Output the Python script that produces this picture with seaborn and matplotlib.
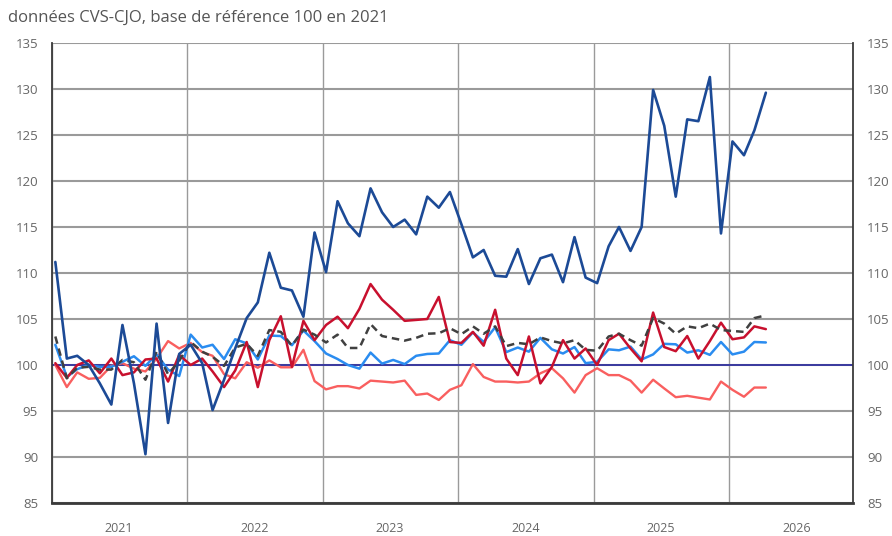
import numpy as np
import pandas as pd
import matplotlib
matplotlib.use("Agg")
import matplotlib.pyplot as plt
import matplotlib.dates as mdates
import seaborn as sns

# ---- data (monthly, Jan 2021 -> Apr 2026) ----
months = pd.date_range("2021-01-01", periods=64, freq="MS")

serie_bleu_fonce = [111.2, 100.7, 101.0, 100.0, 98.0, 95.7, 104.35, 98.0, 90.3, 104.5,
                    93.7, 101.2, 102.2, 100.2, 95.1, 98.4, 101.8, 105.1, 106.8, 112.2,
                    108.4, 108.1, 105.25, 114.4, 110.1, 117.8, 115.4, 114.0, 119.2, 116.6,
                    115.0, 115.8, 114.2, 118.3, 117.1, 118.8, 115.3, 111.7, 112.5, 109.7,
                    109.6, 112.6, 108.8, 111.6, 112.0, 109.0, 113.9, 109.5, 108.9, 112.9,
                    115.0, 112.4, 115.0, 129.9, 126.0, 118.3, 126.7, 126.5, 131.3, 114.3,
                    124.3, 122.8, 125.5, 129.6]

serie_rouge = [100.2, 98.6, 100.0, 100.5, 99.1, 100.7, 98.9, 99.2, 100.6, 100.7,
               98.2, 101.1, 100.0, 100.7, 99.3, 97.6, 99.4, 102.5, 97.6, 102.7,
               105.3, 99.8, 104.8, 102.7, 104.35, 105.25, 104.0, 106.1, 108.8, 107.1,
               106.0, 104.8, 104.9, 105.0, 107.4, 102.5, 102.4, 103.6, 102.1, 106.0,
               100.7, 98.9, 103.1, 98.0, 99.8, 102.7, 100.7, 101.8, 100.0, 102.7,
               103.4, 101.8, 100.4, 105.7, 101.95, 101.5, 103.15, 100.7, 102.6, 104.6,
               102.8, 103.0, 104.2, 103.9]

serie_gris = [103.1, 98.55, 99.7, 99.8, 99.5, 99.5, 100.55, 100.3, 98.4, 101.45,
              99.0, 100.45, 102.5, 101.45, 100.9, 99.9, 101.9, 102.3, 101.0, 103.8,
              103.6, 102.1, 103.85, 103.3, 102.45, 103.3, 101.85, 101.85, 104.45, 103.15,
              102.9, 102.65, 102.95, 103.4, 103.45, 104.0, 103.35, 104.2, 103.4, 104.2,
              102.05, 102.4, 102.25, 103.0, 102.6, 102.35, 102.7, 101.65, 101.55, 103.1,
              103.4, 102.7, 102.1, 105.1, 104.5, 103.4, 104.2, 104.0, 104.5, 103.8,
              103.7, 103.6, 105.1, 105.4]

serie_bleu_clair = [102.2, 98.7, 99.55, 100.0, 99.8, 99.8, 100.35, 100.95, 99.9, 101.15,
                    99.5, 98.8, 103.3, 101.9, 102.2, 100.65, 102.8, 102.35, 100.6, 103.2,
                    103.15, 102.15, 103.75, 102.6, 101.25, 100.65, 100.0, 99.6, 101.35, 100.15,
                    100.55, 100.1, 101.0, 101.2, 101.25, 102.7, 102.2, 103.55, 102.5, 104.1,
                    101.4, 101.9, 101.45, 102.95, 101.7, 101.25, 101.95, 100.2, 100.35, 101.7,
                    101.6, 102.0, 100.6, 101.15, 102.3, 102.25, 101.35, 101.6, 101.1, 102.5,
                    101.15, 101.45, 102.5, 102.45]

serie_saumon = [100.0, 97.6, 99.2, 98.5, 98.6, 99.9, 100.2, 99.6, 99.3, 100.7,
                102.6, 101.8, 102.4, 101.4, 101.0, 99.0, 98.55, 100.3, 99.7, 100.5,
                99.75, 99.75, 101.65, 98.25, 97.35, 97.7, 97.7, 97.45, 98.3, 98.2,
                98.1, 98.3, 96.75, 96.9, 96.2, 97.3, 97.8, 100.1, 98.7, 98.2,
                98.2, 98.1, 98.2, 99.1, 99.65, 98.55, 97.0, 98.9, 99.65, 98.9,
                98.9, 98.3, 97.0, 98.4, 97.45, 96.5, 96.65, 96.45, 96.25, 98.2,
                97.3, 96.55, 97.55, 97.55]

base = 100
y_ticks = [85, 90, 95, 100, 105, 110, 115, 120, 125, 130, 135]
year_labels = ["2021", "2022", "2023", "2024", "2025", "2026"]
titre = "données CVS-CJO, base de référence 100 en 2021"

# ---- style ----
sns.set_theme(style="white")
plt.rcParams["font.family"] = ["Open Sans", "DejaVu Sans"]

fig = plt.figure(figsize=(8.92, 5.36), dpi=100)
ax = fig.add_axes([52 / 892, 1 - 503 / 536, (853 - 52) / 892, (503 - 43) / 536])

x = months + pd.Timedelta(days=9)

df = pd.DataFrame({
    "date": x,
    "saumon": serie_saumon,
    "bleu_clair": serie_bleu_clair,
    "rouge": serie_rouge,
    "gris": serie_gris,
    "bleu_fonce": serie_bleu_fonce,
})

ax.axhline(base, color="#3a3aa0", lw=1.4, zorder=2)

specs = [
    ("saumon", "#f95f5f", 1.7, "-"),
    ("bleu_clair", "#2a8cf0", 1.8, "-"),
    ("rouge", "#c8102e", 1.8, "-"),
    ("gris", "#404040", 1.8, (0, (3, 2))),
    ("bleu_fonce", "#1c4a96", 1.9, "-"),
]
for i, (col, color, lw, ls) in enumerate(specs):
    sns.lineplot(data=df, x="date", y=col, ax=ax, color=color, linewidth=lw,
                 linestyle=ls, zorder=3 + i)

ax.set_ylim(85, 135)
ax.set_xlim(pd.Timestamp("2021-01-01"), pd.Timestamp("2026-12-01"))
ax.set_yticks(y_ticks)
ax.set_xlabel("")
ax.set_ylabel("")

# x axis: gridlines at year boundaries, labels at mid-year
ax.xaxis.set_major_locator(mdates.YearLocator())
ax.xaxis.set_major_formatter(plt.NullFormatter())
mid = [pd.Timestamp(f"{y}-07-01") for y in year_labels]
ax.set_xticks(mid, minor=True)
ax.set_xticklabels(year_labels, minor=True)
ax.tick_params(axis="x", which="both", length=0)
ax.tick_params(axis="x", which="minor", pad=14, labelsize=9, colors="#666666")

ax.grid(True, axis="x", which="major", color="#9a9a9a", lw=1.0, zorder=1)
ax.grid(True, axis="y", color="#9a9a9a", lw=1.5, zorder=1)
ax.set_axisbelow(True)

ax.tick_params(axis="y", length=0, labelsize=9.5, colors="#666666", pad=10,
               left=True, right=True, labelleft=True, labelright=True)

for s in ["left", "right"]:
    ax.spines[s].set_visible(True)
    ax.spines[s].set_color("#3a3a3a")
    ax.spines[s].set_linewidth(1.3)
ax.spines["bottom"].set_color("#3a3a3a")
ax.spines["bottom"].set_linewidth(2.0)
ax.spines["top"].set_visible(False)

fig.text(8 / 892, 1 - 18 / 536, titre, ha="left", va="center",
         fontsize=12, color="#555555")

fig.savefig("out.png", dpi=100)
